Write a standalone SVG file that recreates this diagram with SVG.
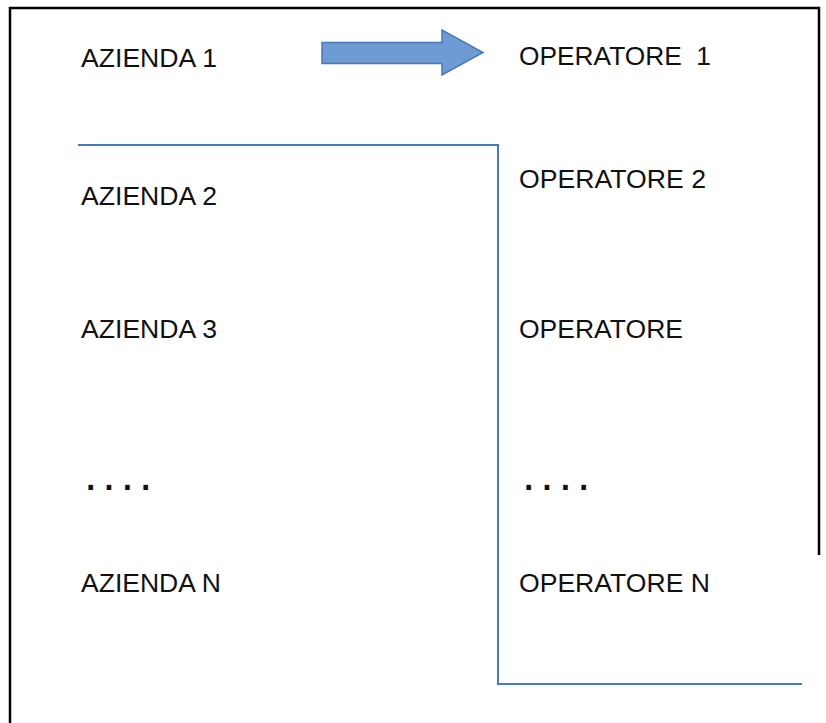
<svg xmlns="http://www.w3.org/2000/svg" width="826" height="723" viewBox="0 0 826 723">
<style>
.t{font-family:"Liberation Sans",Arial,sans-serif;font-size:26px;fill:#111}
.d{font-family:"Liberation Sans",Arial,sans-serif;font-size:48px;fill:#111;letter-spacing:5px}
.frame{fill:none;stroke:#000;stroke-width:2.5}
.conn{fill:none;stroke:#4a78bd;stroke-width:2}
</style>
<rect width="826" height="723" fill="#fff"/>
<path class="frame" d="M10,723 V8 H819 V555"/>
<g id="azienda1"><text class="t" x="81" y="67" textLength="136" lengthAdjust="spacingAndGlyphs">AZIENDA 1</text></g>
<g id="operatore1"><text class="t" x="519" y="65" textLength="192" lengthAdjust="spacingAndGlyphs" xml:space="preserve">OPERATORE  1</text></g>
<g id="azienda2"><text class="t" x="81" y="205" textLength="136" lengthAdjust="spacingAndGlyphs">AZIENDA 2</text></g>
<g id="operatore2"><text class="t" x="519" y="188" textLength="187" lengthAdjust="spacingAndGlyphs">OPERATORE 2</text></g>
<g id="azienda3"><text class="t" x="81" y="338" textLength="136" lengthAdjust="spacingAndGlyphs">AZIENDA 3</text></g>
<g id="operatore"><text class="t" x="519" y="338" textLength="164" lengthAdjust="spacingAndGlyphs">OPERATORE</text></g>
<g id="dots-left"><text class="d" x="84" y="490">....</text></g>
<g id="dots-right"><text class="d" x="522" y="490">....</text></g>
<g id="aziendaN"><text class="t" x="81" y="592" textLength="140" lengthAdjust="spacingAndGlyphs">AZIENDA N</text></g>
<g id="operatoreN"><text class="t" x="519" y="592" textLength="191" lengthAdjust="spacingAndGlyphs">OPERATORE N</text></g>
<g id="connectors">
<polygon points="322,42.5 442,42.5 442,30 483,52.5 442,75 442,63.5 322,63.5" fill="#6e9bd4" stroke="#4a78b8" stroke-width="1.5"/>
<polyline class="conn" points="78,145 498,145 498,684 802,684"/>
</g>
</svg>
